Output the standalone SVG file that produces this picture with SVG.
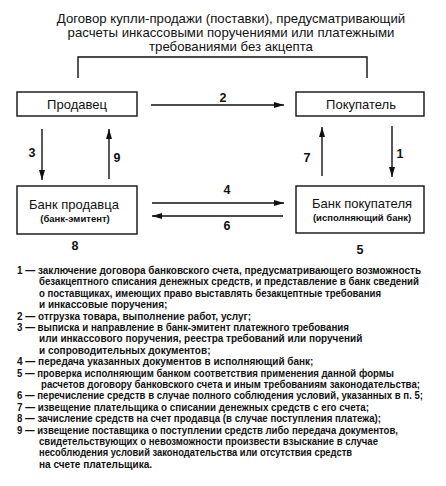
<svg xmlns="http://www.w3.org/2000/svg" width="446" height="486" viewBox="0 0 446 486">
<style>
.bg{fill:#fff}
.box{fill:#fff;stroke:#111;stroke-width:1.4}
.ln{fill:none;stroke:#111;stroke-width:1.4}
.t{font-family:"Liberation Sans",Arial,sans-serif;fill:#111}
.title{font-size:13.2px;text-anchor:middle}
.name{font-size:13px;text-anchor:middle}
.sub{font-size:9.5px;font-weight:bold;text-anchor:middle}
.num{font-size:12.5px;font-weight:bold;text-anchor:middle}
.leg{font-size:10px;font-weight:bold}
</style>
<defs>
<marker id="ah" viewBox="0 0 10 6" refX="10" refY="3" markerWidth="10" markerHeight="6" markerUnits="userSpaceOnUse" orient="auto">
<path d="M0,0 L10,3 L0,6 Z" fill="#111"/>
</marker>
</defs>
<rect class="bg" x="0" y="0" width="446" height="486"/>
<g id="title">
<text class="t title" x="231" y="23">Договор купли-продажи (поставки), предусматривающий</text>
<text class="t title" x="231" y="37">расчеты инкассовыми поручениями или платежными</text>
<text class="t title" x="231" y="51">требованиями без акцепта</text>
</g>
<g id="seller">
<rect class="box" x="17" y="92" width="120" height="24"/>
<text class="t name" x="77" y="109">Продавец</text>
</g>
<g id="buyer">
<rect class="box" x="296" y="92" width="128" height="24"/>
<text class="t name" x="361" y="109">Покупатель</text>
</g>
<g id="seller-bank">
<rect class="box" x="17" y="186" width="120" height="48"/>
<text class="t name" x="74" y="209">Банк продавца</text>
<text class="t sub" x="75" y="222">(банк-эмитент)</text>
</g>
<g id="buyer-bank">
<rect class="box" x="296" y="186" width="128" height="47"/>
<text class="t name" x="362" y="208">Банк покупателя</text>
<text class="t sub" x="362" y="221">(исполняющий банк)</text>
</g>
<g id="connectors">
<path class="ln" d="M78,78 V57 H367 V78"/>
<line class="ln" x1="151" y1="105" x2="284" y2="105" marker-end="url(#ah)"/>
<line class="ln" x1="42" y1="129" x2="42" y2="180" marker-end="url(#ah)"/>
<line class="ln" x1="109" y1="179" x2="109" y2="129" marker-end="url(#ah)"/>
<line class="ln" x1="322" y1="176" x2="322" y2="127" marker-end="url(#ah)"/>
<line class="ln" x1="392" y1="126" x2="392" y2="177" marker-end="url(#ah)"/>
<line class="ln" x1="152" y1="203" x2="284" y2="203" marker-end="url(#ah)"/>
<line class="ln" x1="283" y1="216" x2="152" y2="216" marker-end="url(#ah)"/>
<text class="t num" x="223" y="102">2</text>
<text class="t num" x="32" y="157">3</text>
<text class="t num" x="117" y="162">9</text>
<text class="t num" x="307" y="162">7</text>
<text class="t num" x="400" y="158">1</text>
<text class="t num" x="227" y="194">4</text>
<text class="t num" x="227" y="230">6</text>
<text class="t num" x="75" y="250">8</text>
<text class="t num" x="360" y="254">5</text>
</g>
<g id="legend">
<text class="t leg" x="17" y="274" textLength="404" lengthAdjust="spacingAndGlyphs">1 — заключение договора банковского счета, предусматривающего возможность</text>
<text class="t leg" x="39" y="285.4" textLength="380" lengthAdjust="spacingAndGlyphs">безакцептного списания денежных средств, и представление в банк сведений</text>
<text class="t leg" x="39" y="296.8" textLength="342" lengthAdjust="spacingAndGlyphs">о поставщиках, имеющих право выставлять безакцептные требования</text>
<text class="t leg" x="39" y="308.2">и инкассовые поручения;</text>
<text class="t leg" x="17" y="319.6">2 — отгрузка товара, выполнение работ, услуг;</text>
<text class="t leg" x="17" y="331" textLength="332" lengthAdjust="spacingAndGlyphs">3 — выписка и направление в банк-эмитент платежного требования</text>
<text class="t leg" x="39" y="342.4">или инкассового поручения, реестра требований или поручений</text>
<text class="t leg" x="39" y="353.8">и сопроводительных документов;</text>
<text class="t leg" x="17" y="365.2">4 — передача указанных документов в исполняющий банк;</text>
<text class="t leg" x="17" y="376.6" textLength="377" lengthAdjust="spacingAndGlyphs">5 — проверка исполняющим банком соответствия применения данной формы</text>
<text class="t leg" x="41" y="388" textLength="379" lengthAdjust="spacingAndGlyphs">расчетов договору банковского счета и иным требованиям законодательства;</text>
<text class="t leg" x="17" y="399.4" textLength="406" lengthAdjust="spacingAndGlyphs">6 — перечисление средств в случае полного соблюдения условий, указанных в п. 5;</text>
<text class="t leg" x="17" y="410.8" textLength="352" lengthAdjust="spacingAndGlyphs">7 — извещение плательщика о списании денежных средств с его счета;</text>
<text class="t leg" x="17" y="422.2" textLength="364" lengthAdjust="spacingAndGlyphs">8 — зачисление средств на счет продавца (в случае поступления платежа);</text>
<text class="t leg" x="17" y="433.6" textLength="381" lengthAdjust="spacingAndGlyphs">9 — извещение поставщика о поступлении средств либо передача документов,</text>
<text class="t leg" x="39" y="445" textLength="339" lengthAdjust="spacingAndGlyphs">свидетельствующих о невозможности произвести взыскание в случае</text>
<text class="t leg" x="39" y="456.4" textLength="313" lengthAdjust="spacingAndGlyphs">несоблюдения условий законодательства или отсутствия средств</text>
<text class="t leg" x="39" y="467.8">на счете плательщика.</text>
</g>
</svg>
